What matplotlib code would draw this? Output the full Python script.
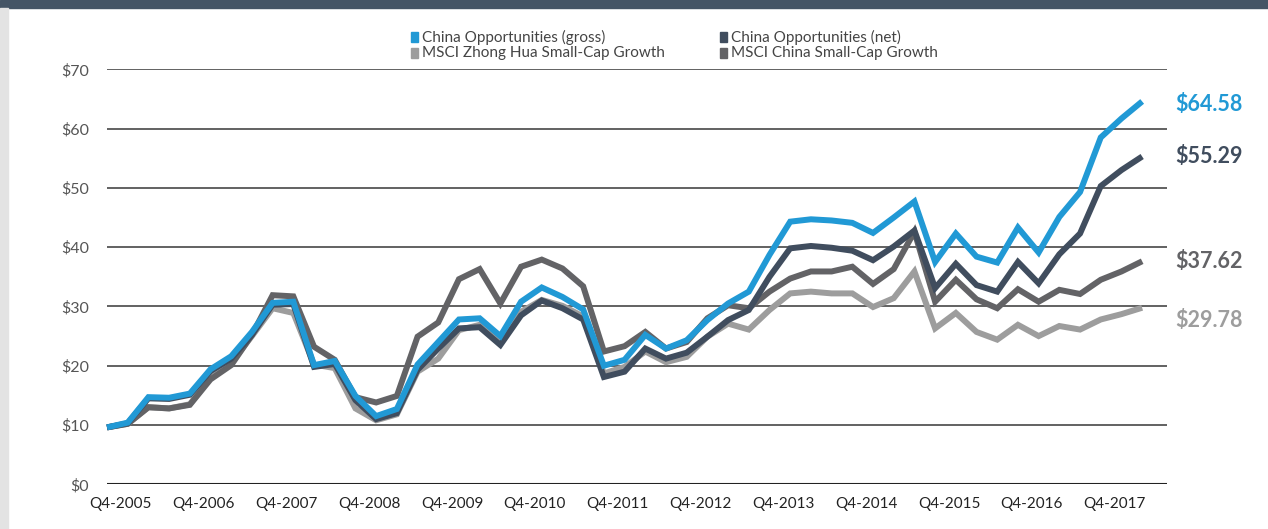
import numpy as np
import matplotlib
matplotlib.use("Agg")
import matplotlib.pyplot as plt
from matplotlib.patches import Rectangle

plt.rcParams['font.family'] = ['Lato', 'DejaVu Sans']

# growth of $10, quarterly, starting Q4-2005
gross = [9.6, 10.4, 14.7, 14.6, 15.3, 19.4, 21.6, 25.7, 30.6, 30.8,
         20.1, 20.8, 14.9, 11.5, 12.7, 20.2, 24.0, 27.8, 28.0, 25.0,
         30.8, 33.2, 31.6, 29.5, 20.0, 21.0, 25.2, 22.9, 24.3, 27.7,
         30.5, 32.5, 38.7, 44.3, 44.7, 44.5, 44.1, 42.4, 45.0, 47.7,
         37.5, 42.3, 38.4, 37.4, 43.3, 39.1, 45.1, 49.3, 58.5, 61.7,
         64.58]
net = [9.6, 10.3, 14.5, 14.4, 15.1, 19.1, 21.2, 25.2, 30.3, 30.4,
       19.8, 20.3, 14.2, 11.0, 12.0, 19.3, 22.9, 26.3, 26.5, 23.5,
       28.5, 31.0, 29.7, 27.8, 18.1, 19.0, 22.9, 21.2, 22.2, 24.9,
       27.7, 29.4, 35.0, 39.8, 40.2, 39.9, 39.4, 37.8, 40.1, 42.8,
       33.1, 37.2, 33.6, 32.5, 37.5, 33.9, 38.8, 42.3, 50.3, 53.0,
       55.29]
msci_china = [9.6, 10.2, 13.0, 12.8, 13.4, 17.7, 20.1, 25.2, 31.9, 31.7,
              23.2, 21.0, 14.7, 13.8, 14.9, 24.9, 27.3, 34.6, 36.3, 30.5,
              36.7, 37.9, 36.4, 33.4, 22.4, 23.3, 25.7, 22.9, 24.0, 28.0,
              30.2, 29.7, 32.5, 34.7, 35.9, 35.9, 36.7, 33.8, 36.3, 42.6,
              30.8, 34.5, 31.2, 29.7, 32.9, 30.8, 32.8, 32.1, 34.5, 35.9,
              37.62]
msci_zhonghua = [9.6, 10.2, 13.0, 12.8, 13.5, 18.0, 20.5, 25.0, 29.7, 28.9,
                 20.2, 19.6, 12.8, 10.8, 11.8, 19.0, 21.2, 26.0, 26.9, 24.3,
                 29.1, 31.1, 30.1, 28.3, 18.7, 19.8, 22.4, 20.6, 21.5, 24.9,
                 27.1, 26.1, 29.4, 32.2, 32.5, 32.2, 32.2, 29.9, 31.4, 35.9,
                 26.3, 28.9, 25.7, 24.4, 26.9, 25.0, 26.7, 26.1, 27.8, 28.7,
                 29.78]
tick_labels = ['Q4-2005', 'Q4-2006', 'Q4-2007', 'Q4-2008', 'Q4-2009', 'Q4-2010',
               'Q4-2011', 'Q4-2012', 'Q4-2013', 'Q4-2014', 'Q4-2015', 'Q4-2016',
               'Q4-2017']
end_labels = ['$64.58', '$55.29', '$37.62', '$29.78']

BLUE = '#2199D5'
SLATE = '#404D5E'
GREY = '#636366'
LIGHT = '#9D9D9D'

fig = plt.figure(figsize=(12.68, 5.29), dpi=100)
W, H = 1268, 529
ax = fig.add_axes([107 / W, 1 - 484.3 / H, (1167 - 107) / W, (484.3 - 69.3) / H])

# page decorations
fig.patches.append(Rectangle((0, 1 - 8 / H), 1, 8 / H, transform=fig.transFigure,
                             color='#455566', zorder=0))
fig.patches.append(Rectangle((0, 0), 8 / W, 1 - 8 / H, transform=fig.transFigure,
                             color='#E3E3E3', zorder=0))

x = np.arange(len(gross))
series = [(msci_zhonghua, LIGHT), (msci_china, GREY), (net, SLATE), (gross, BLUE)]
for i, (vals, col) in enumerate(series):
    ax.plot(x, vals, color=col, lw=4.3, solid_joinstyle='miter', solid_capstyle='butt',
            zorder=3 + i, clip_on=False)

ax.set_xlim(0, 51.2)
ax.set_ylim(0, 70)
for v in range(10, 80, 10):
    ax.axhline(v, color='#555555', lw=1.3, zorder=1)
ax.axhline(0, color='#222222', lw=1.5, zorder=1)

ax.set_yticks(range(0, 80, 10))
ax.set_yticklabels(['$%d' % v for v in range(0, 80, 10)])
ax.set_xticks(np.arange(len(tick_labels)) * 4 + 0.67)
ax.set_xticklabels(tick_labels)
ax.tick_params(axis='y', length=0, pad=13, labelsize=11.5, labelcolor='#555555')
ax.tick_params(axis='x', length=0, pad=9, labelsize=11, labelcolor='#222222')
for s in ax.spines.values():
    s.set_visible(False)

# end labels
ends = [(gross, BLUE, -2), (net, SLATE, 0), (msci_china, GREY, 0), (msci_zhonghua, LIGHT, -9)]
for (vals, col, dy), lab in zip(ends, end_labels):
    ax.annotate(lab, xy=(x[-1], vals[-1]), xytext=(24, dy), textcoords='offset points',
                color=col, fontsize=15.5, fontweight='bold', va='center', ha='left',
                annotation_clip=False)

# legend
legend = [('China Opportunities (gross)', BLUE, 411, 37),
          ('China Opportunities (net)', SLATE, 720, 37),
          ('MSCI Zhong Hua Small-Cap Growth', LIGHT, 411, 53),
          ('MSCI China Small-Cap Growth', GREY, 720, 53)]
for text, col, px, py in legend:
    fig.patches.append(Rectangle((px / W, 1 - (py + 5) / H), 7 / W, 10 / H,
                                 transform=fig.transFigure, color=col))
    fig.text((px + 11) / W, 1 - py / H, text, fontsize=11, color='#444444',
             va='center', ha='left')

fig.savefig('out.png', dpi=100)
